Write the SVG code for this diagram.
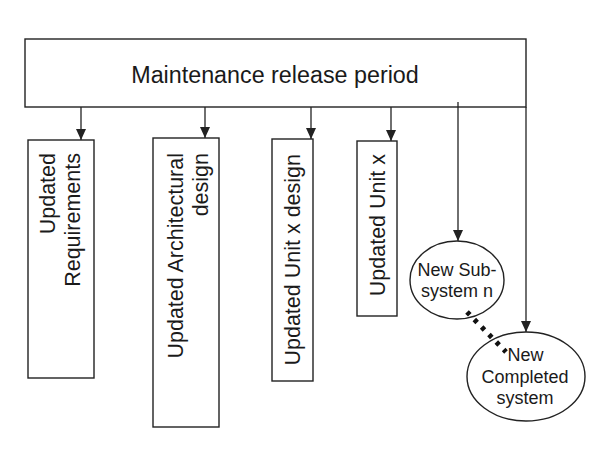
<svg xmlns="http://www.w3.org/2000/svg" width="597" height="464" viewBox="0 0 597 464">
<defs>
<style>
.box{fill:#fff;stroke:#222;stroke-width:1.4}
.ln{fill:none;stroke:#222;stroke-width:1.3}
.t{font-family:"Liberation Sans",Arial,sans-serif;fill:#1a1a1a}
.big{font-size:23.3px}
.v{font-size:21.5px}
.e{font-size:18px}
.dots{fill:none;stroke:#111;stroke-width:5;stroke-dasharray:4 6.5}
</style>
<marker id="ah" markerUnits="userSpaceOnUse" viewBox="0 0 11 10" markerWidth="11" markerHeight="10" refX="11" refY="5" orient="auto">
<path d="M0,0 L11,5 L0,10 Z" fill="#222"/>
</marker>
</defs>
<rect width="597" height="464" fill="#fff"/>
<g id="maintenance">
<rect class="box" x="25" y="39" width="501" height="68"/>
<text class="t big" x="275" y="83" text-anchor="middle">Maintenance release period</text>
</g>
<g id="requirements">
<rect class="box" x="28" y="140" width="66" height="238"/>
<text class="t v" transform="translate(55,153) rotate(-90)" text-anchor="end"><tspan x="0" y="0">Updated</tspan><tspan x="0" y="25">Requirements</tspan></text>
</g>
<g id="architectural">
<rect class="box" x="153" y="138" width="66" height="289"/>
<text class="t v" transform="translate(183,153) rotate(-90)" text-anchor="end"><tspan x="0" y="0">Updated Architectural</tspan><tspan x="0" y="25">design</tspan></text>
</g>
<g id="unit-design">
<rect class="box" x="272" y="139" width="41" height="242"/>
<text class="t v" transform="translate(300,154) rotate(-90)" text-anchor="end">Updated Unit x design</text>
</g>
<g id="unit">
<rect class="box" x="357" y="141" width="40" height="175"/>
<text class="t v" transform="translate(385,154) rotate(-90)" text-anchor="end">Updated Unit x</text>
</g>
<g id="subsystem">
<ellipse class="box" cx="457" cy="280" rx="47" ry="39"/>
<text class="t e" text-anchor="middle"><tspan x="457" y="276">New Sub-</tspan><tspan x="457" y="297">system n</tspan></text>
</g>
<g id="completed">
<ellipse class="box" cx="526" cy="376.5" rx="59" ry="44.5"/>
<text class="t e" text-anchor="middle"><tspan x="525.5" y="361">New</tspan><tspan x="525" y="383">Completed</tspan><tspan x="525" y="404">system</tspan></text>
</g>
<g id="connectors">
<line class="ln" x1="81" y1="107" x2="81" y2="140" marker-end="url(#ah)"/>
<line class="ln" x1="205" y1="107" x2="205" y2="138" marker-end="url(#ah)"/>
<line class="ln" x1="311" y1="107" x2="311" y2="139" marker-end="url(#ah)"/>
<line class="ln" x1="391" y1="107" x2="391" y2="141" marker-end="url(#ah)"/>
<line class="ln" x1="458" y1="102" x2="458" y2="241" marker-end="url(#ah)"/>
<line class="ln" x1="526" y1="107" x2="526" y2="332" marker-end="url(#ah)"/>
<line class="dots" x1="467" y1="312" x2="506" y2="352"/>
</g>
</svg>
